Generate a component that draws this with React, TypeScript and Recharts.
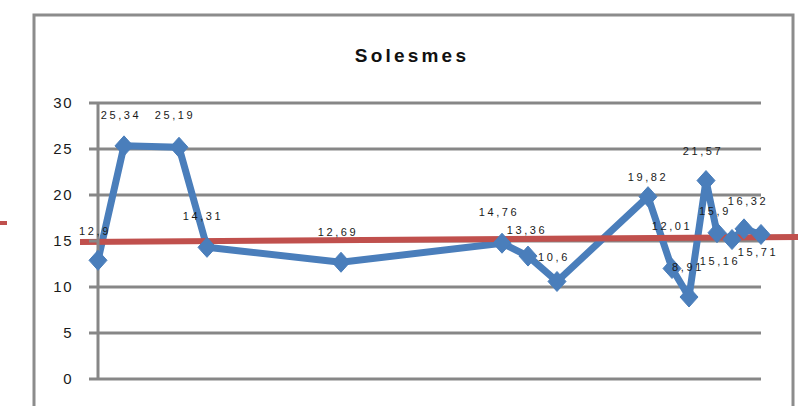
import { LineChart, Line, XAxis, YAxis, CartesianGrid, ReferenceLine } from 'recharts'

// jour relatif (position sur l'axe) et note relevée
const JOURS = [0, 26, 81, 109, 243, 404, 430, 459, 550, 574, 591, 608, 619, 634, 646, 663]
const NOTES = [12.9, 25.34, 25.19, 14.31, 12.69, 14.76, 13.36, 10.6, 19.82, 12.01, 8.91, 21.57, 15.9, 15.16, 16.32, 15.71]
const Y_TICKS = [0, 5, 10, 15, 20, 25, 30]
const SEUIL = [
  { x: -18, y: 14.9 },
  { x: 702, y: 15.43 },
]

const BLUE = '#4a7ebb'
const RED = '#c0504d'
const GRID = '#878787'
const FONT = '"Liberation Sans", Arial, sans-serif'

// where each data label sits relative to its point (text baseline)
const LABEL_NUDGE: [number, number][] = [
  [-3, -25], [-3, -27], [-4, -28], [-4, -27], [-3, -26], [-3, -27], [-1, -22], [-3, -20],
  [0, -16], [0, -39], [-1, -26], [-3, -26], [-2, -18], [-12, 25], [4, -24], [-3, 22],
]

const data = JOURS.map((jour, i) => ({ jour, note: NOTES[i] }))

const renderDiamond = (props: any) => {
  const { cx, cy, index } = props
  if (cx == null || cy == null) return <g key={`d-${index}`} />
  const w = 9
  const h = 10
  return (
    <polygon
      key={`d-${index}`}
      points={`${cx},${cy - h} ${cx + w},${cy} ${cx},${cy + h} ${cx - w},${cy}`}
      fill={BLUE}
      stroke={BLUE}
      strokeWidth={1}
    />
  )
}

const renderLabel = (props: any) => {
  const { x, y, value, index } = props
  const [dx, dy] = LABEL_NUDGE[index] ?? [0, -26]
  return (
    <text
      key={`l-${index}`}
      x={x + dx}
      y={y + dy}
      textAnchor="middle"
      fontSize={11}
      letterSpacing={2.6}
      fontFamily={FONT}
      fill="#1a1a1a"
    >
      {String(value).replace('.', ',')}
    </text>
  )
}

export default function App() {
  return (
    <div style={{ position: 'fixed', left: 0, top: 0, width: 798, height: 406, overflow: 'hidden', background: '#fff' }}>
      <svg width={798} height={406} style={{ position: 'absolute', left: 0, top: 0, display: 'block' }}>
        <rect x={34} y={15} width={759} height={420} fill="none" stroke="#8c8c8c" strokeWidth={3} />
        <rect x={0} y={221} width={7} height={4} fill={RED} />
        <text
          x={412}
          y={62}
          textAnchor="middle"
          fontSize={19}
          fontWeight="bold"
          letterSpacing={3.2}
          fontFamily={FONT}
          fill="#111"
        >
          Solesmes
        </text>
      </svg>
      <div style={{ position: 'absolute', left: 0, top: 0 }}>
        <LineChart
          width={798}
          height={406}
          data={data}
          margin={{ top: 103, right: 37, left: 38, bottom: 27 }}
          style={{ overflow: 'visible' }}
        >
          <CartesianGrid vertical={false} stroke={GRID} strokeWidth={3} />
          <XAxis dataKey="jour" type="number" domain={[0, 663]} hide />
          <YAxis
            width={60}
            domain={[0, 30]}
            ticks={Y_TICKS}
            interval={0}
            axisLine={{ stroke: GRID, strokeWidth: 3 }}
            tickLine={{ stroke: GRID, strokeWidth: 3 }}
            tickSize={9}
            tickMargin={16}
            tick={{ fontSize: 15, fill: '#1a1a1a', fontFamily: FONT, letterSpacing: 1.5 }}
          />
          <Line
            dataKey="note"
            stroke={BLUE}
            strokeWidth={7}
            strokeLinejoin="round"
            dot={renderDiamond}
            activeDot={false}
            label={renderLabel}
            isAnimationActive={false}
          />
          <ReferenceLine segment={SEUIL} stroke={RED} strokeWidth={6} ifOverflow="visible" />
        </LineChart>
      </div>
    </div>
  )
}
